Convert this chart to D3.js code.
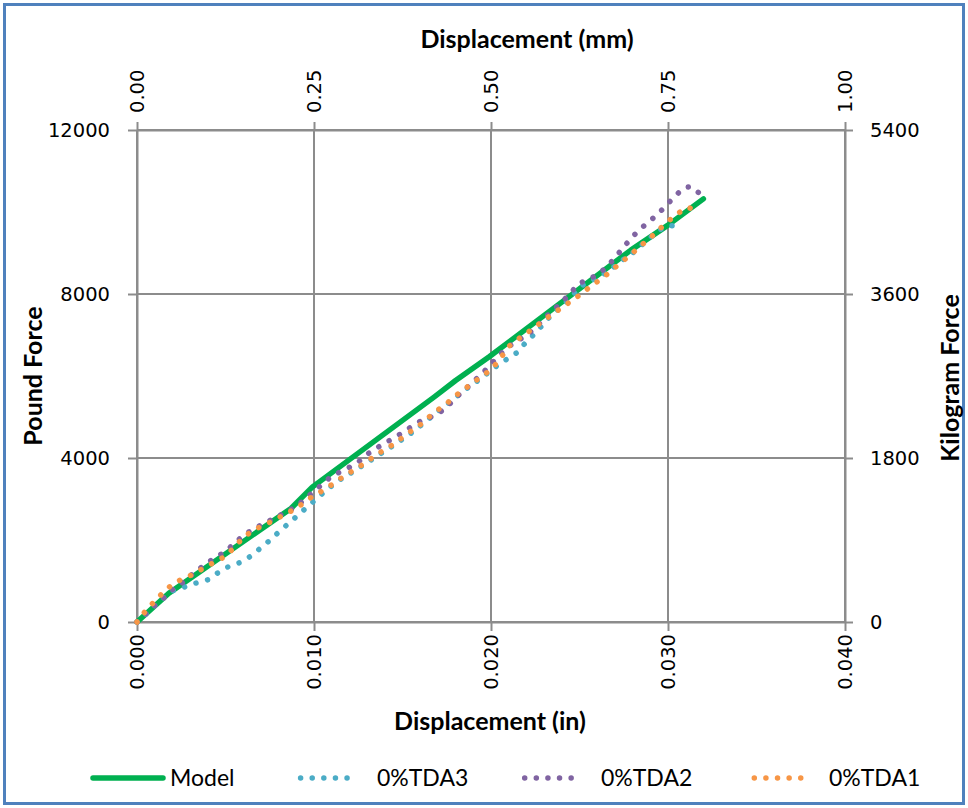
<!DOCTYPE html>
<html>
<head>
<meta charset="utf-8">
<script src="https://cdn.jsdelivr.net/npm/d3@7"></script>
<style>
  html, body { margin: 0; padding: 0; background: #fff; }
  svg { display: block; }
  .tick-label { font-family: "DejaVu Sans", Verdana, sans-serif; font-size: 19.5px; fill: #000; }
  .axis-title { font-family: Lato, "Open Sans", sans-serif; font-weight: bold; font-size: 25px; fill: #000; }
  .legend-text { font-family: Lato, "Open Sans", sans-serif; font-size: 23px; fill: #000; }
</style>
</head>
<body>
<svg id="chart" width="968" height="808"></svg>
<script>
// Axis ticks
const xTicksIn = [0, 0.01, 0.02, 0.03, 0.04];
const xTicksMm = [0, 0.25, 0.5, 0.75, 1.0];
const yTicksLbf = [0, 4000, 8000, 12000];
const yTicksKgf = [0, 1800, 3600, 5400];

// Series names and colours
const seriesNames = ["Model", "0%TDA3", "0%TDA2", "0%TDA1"];
const seriesColors = ["#00B050", "#4BACC6", "#8064A2", "#F79646"];

// Model: displacement (in) vs force (lbf)
const modelIn  = [0, 0.0018, 0.0087, 0.0099, 0.0168, 0.0180, 0.0199, 0.0279, 0.0300, 0.0320];
const modelLbf = [0, 700, 2770, 3290, 5490, 5890, 6470, 9070, 9680, 10320];

// 0%TDA3 test
const tda3In = [0, 0.0005, 0.001, 0.0015, 0.002, 0.0025, 0.003, 0.0035, 0.004, 0.0045,
  0.005, 0.0055, 0.006, 0.0065, 0.007, 0.0075, 0.008, 0.0085, 0.009, 0.0095,
  0.010, 0.0105, 0.011, 0.0115, 0.012, 0.0125, 0.013, 0.0135, 0.014, 0.0145,
  0.015, 0.0155, 0.016, 0.0165, 0.017, 0.0175, 0.018, 0.0185, 0.019, 0.0195,
  0.020, 0.0205, 0.021, 0.0215, 0.022, 0.0225, 0.023, 0.0235, 0.024, 0.0245,
  0.025, 0.0255, 0.026, 0.0265, 0.027, 0.0275, 0.028, 0.0285, 0.029, 0.0295,
  0.030, 0.0306];
const tda3Lbf = [0, 190, 400, 590, 760, 820, 910, 970, 1030, 1180,
  1320, 1400, 1480, 1630, 1810, 1990, 2190, 2380, 2570, 2760,
  2950, 3140, 3320, 3480, 3610, 3750, 3890, 4030, 4170, 4310,
  4460, 4610, 4780, 4960, 5140, 5300, 5480, 5650, 5810, 5960,
  6140, 6300, 6440, 6580, 6840, 7040, 7290, 7530, 7700, 7900,
  8170, 8300, 8390, 8520, 8680, 8850, 9000, 9190, 9380, 9560,
  9665, 9670];

// 0%TDA2 test
const tda2In = [0, 0.0005, 0.001, 0.0015, 0.002, 0.0025, 0.003, 0.0035, 0.004, 0.0045,
  0.005, 0.0055, 0.006, 0.0065, 0.007, 0.0075, 0.008, 0.0085, 0.009, 0.0095,
  0.010, 0.0105, 0.011, 0.0115, 0.012, 0.0125, 0.013, 0.0135, 0.014, 0.0145,
  0.015, 0.0155, 0.016, 0.0165, 0.017, 0.0175, 0.018, 0.0185, 0.019, 0.0195,
  0.020, 0.0205, 0.021, 0.0215, 0.022, 0.0225, 0.023, 0.0235, 0.024, 0.0245,
  0.025, 0.0255, 0.026, 0.0265, 0.027, 0.0275, 0.028, 0.0285, 0.029, 0.0295,
  0.030, 0.0305, 0.0309, 0.0313, 0.0318];
const tda2Lbf = [0, 200, 400, 580, 790, 935, 1120, 1290, 1455, 1580,
  1730, 1910, 2110, 2245, 2365, 2475, 2585, 2695, 2820, 3000,
  3190, 3370, 3560, 3665, 3775, 3900, 4090, 4230, 4370, 4480,
  4620, 4760, 4895, 4980, 5080, 5240, 5470, 5660, 5860, 6060,
  6290, 6520, 6720, 6860, 6990, 7170, 7400, 7600, 7800, 8030,
  8265, 8350, 8470, 8640, 8880, 9150, 9400, 9610, 9790, 9980,
  10210, 10430, 10590, 10620, 10450];

// 0%TDA1 test
const tda1In = [0, 0.0005, 0.001, 0.0015, 0.002, 0.0025, 0.003, 0.0035, 0.004, 0.0045,
  0.005, 0.0055, 0.006, 0.0065, 0.007, 0.0075, 0.008, 0.0085, 0.009, 0.0095,
  0.010, 0.0105, 0.011, 0.0115, 0.012, 0.0125, 0.013, 0.0135, 0.014, 0.0145,
  0.015, 0.0155, 0.016, 0.0165, 0.017, 0.0175, 0.018, 0.0185, 0.019, 0.0195,
  0.020, 0.0205, 0.021, 0.0215, 0.022, 0.0225, 0.023, 0.0235, 0.024, 0.0245,
  0.025, 0.0255, 0.026, 0.0265, 0.027, 0.0275, 0.028, 0.0285, 0.029, 0.0295,
  0.030, 0.0305, 0.0311, 0.0317];
const tda1Lbf = [0, 280, 510, 730, 920, 1040, 1130, 1250, 1375, 1480,
  1610, 1820, 2060, 2215, 2330, 2430, 2545, 2660, 2770, 2935,
  3085, 3210, 3350, 3500, 3640, 3770, 3920, 4065, 4210, 4340,
  4500, 4660, 4810, 5000, 5175, 5330, 5520, 5680, 5840, 6000,
  6150, 6410, 6720, 6890, 7040, 7200, 7360, 7520, 7665, 7820,
  7970, 8140, 8300, 8460, 8645, 8820, 9000, 9190, 9370, 9575,
  9770, 9950, 10115, 10030];

const svg = d3.select("#chart");
const W = 968, H = 808;
const plot = { left: 137, right: 845, top: 130, bottom: 622 };
const gridColor = "#8c8c8c";

svg.append("rect").attr("width", W).attr("height", H).attr("fill", "#fff");
svg.append("rect")
  .attr("x", 4.5).attr("y", 4.5).attr("width", W - 9).attr("height", H - 9)
  .attr("fill", "none").attr("stroke", "#4F81BD").attr("stroke-width", 3);

const x = d3.scaleLinear().domain([0, 0.04]).range([plot.left, plot.right]);
const xMm = d3.scaleLinear().domain([0, 1]).range([plot.left, plot.right]);
const y = d3.scaleLinear().domain([0, 12000]).range([plot.bottom, plot.top]);
const yKg = d3.scaleLinear().domain([0, 5400]).range([plot.bottom, plot.top]);

// Gridlines
const grid = svg.append("g").attr("stroke", gridColor).attr("stroke-width", 2);
grid.selectAll("line.v").data(xTicksIn).join("line")
  .attr("x1", d => x(d)).attr("x2", d => x(d))
  .attr("y1", plot.top).attr("y2", plot.bottom);
grid.selectAll("line.h").data(yTicksLbf).join("line")
  .attr("x1", plot.left).attr("x2", plot.right)
  .attr("y1", d => y(d)).attr("y2", d => y(d));

function styleAxis(g) {
  g.select(".domain").attr("stroke", gridColor).attr("stroke-width", 2);
  g.selectAll(".tick line").attr("stroke", gridColor).attr("stroke-width", 2);
  g.selectAll(".tick text").remove();
}

// Axes (tick marks only; labels drawn below)
svg.append("g").attr("transform", `translate(${plot.left},0)`)
  .call(d3.axisLeft(y).tickValues(yTicksLbf).tickSize(9).tickSizeOuter(0)).call(styleAxis);
svg.append("g").attr("transform", `translate(${plot.right},0)`)
  .call(d3.axisRight(yKg).tickValues(yTicksKgf).tickSize(8).tickSizeOuter(0)).call(styleAxis);
svg.append("g").attr("transform", `translate(0,${plot.bottom})`)
  .call(d3.axisBottom(x).tickValues(xTicksIn).tickSize(9).tickSizeOuter(0)).call(styleAxis);
svg.append("g").attr("transform", `translate(0,${plot.top})`)
  .call(d3.axisTop(xMm).tickValues(xTicksMm).tickSize(8).tickSizeOuter(0)).call(styleAxis);

// Tick labels
svg.selectAll("text.yl").data(yTicksLbf).join("text")
  .attr("class", "tick-label").attr("x", 110).attr("y", d => y(d)).attr("dy", "0.35em")
  .attr("text-anchor", "end").text(d => d3.format("d")(d));
svg.selectAll("text.yr").data(yTicksKgf).join("text")
  .attr("class", "tick-label").attr("x", 870).attr("y", d => yKg(d)).attr("dy", "0.35em")
  .attr("text-anchor", "start").text(d => d3.format("d")(d));
svg.selectAll("text.xb").data(xTicksIn).join("text")
  .attr("class", "tick-label")
  .attr("transform", d => `translate(${x(d)},634) rotate(-90)`)
  .attr("dy", "0.35em").attr("text-anchor", "end").text(d => d3.format(".3f")(d));
svg.selectAll("text.xt").data(xTicksMm).join("text")
  .attr("class", "tick-label")
  .attr("transform", d => `translate(${xMm(d)},113) rotate(-90)`)
  .attr("dy", "0.35em").attr("text-anchor", "start").text(d => d3.format(".2f")(d));

// Axis titles
svg.append("text").attr("class", "axis-title").attr("x", 527).attr("y", 48)
  .attr("text-anchor", "middle").text("Displacement (mm)");
svg.append("text").attr("class", "axis-title").attr("x", 490).attr("y", 730)
  .attr("text-anchor", "middle").text("Displacement (in)");
svg.append("text").attr("class", "axis-title")
  .attr("transform", "translate(42,376) rotate(-90)")
  .attr("text-anchor", "middle").text("Pound Force");
svg.append("text").attr("class", "axis-title")
  .attr("transform", "translate(959,378) rotate(-90)")
  .attr("text-anchor", "middle").text("Kilogram Force");

// Series
const seriesData = [
  { xs: modelIn, ys: modelLbf },
  { xs: tda3In, ys: tda3Lbf },
  { xs: tda2In, ys: tda2Lbf },
  { xs: tda1In, ys: tda1Lbf }
].map((s, i) => ({
  name: seriesNames[i],
  color: seriesColors[i],
  dotted: i > 0,
  points: s.xs.map((v, j) => [v, s.ys[j]])
}));

const line = d3.line().x(d => x(d[0])).y(d => y(d[1]));

svg.append("g").selectAll("path").data(seriesData).join("path")
  .attr("d", d => line(d.points))
  .attr("fill", "none")
  .attr("stroke", d => d.color)
  .attr("stroke-width", 5.5)
  .attr("stroke-linecap", "round")
  .attr("stroke-linejoin", "round")
  .attr("stroke-dasharray", d => d.dotted ? "0.01 12" : null);

// Legend
const legendY = 778;
const legendItems = [
  { x0: 93, x1: 163, tx: 170 },
  { x0: 300.6, x1: 358.6, tx: 377 },
  { x0: 524.7, x1: 582.7, tx: 601 },
  { x0: 754.3, x1: 812.3, tx: 829 }
];
const leg = svg.append("g");
legendItems.forEach((it, i) => {
  const s = seriesData[i];
  leg.append("line")
    .attr("x1", it.x0).attr("x2", it.x1).attr("y1", legendY).attr("y2", legendY)
    .attr("stroke", s.color).attr("stroke-width", 5.5).attr("stroke-linecap", "round")
    .attr("stroke-dasharray", s.dotted ? "0.01 11.6" : null);
  leg.append("text").attr("class", "legend-text")
    .attr("x", it.tx).attr("y", legendY + 8).text(s.name);
});
</script>
</body>
</html>
